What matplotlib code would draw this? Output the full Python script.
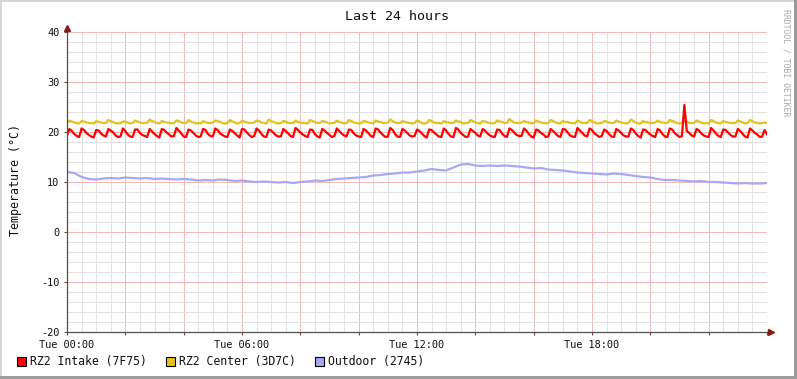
import numpy as np
import matplotlib
matplotlib.use("Agg")
import matplotlib.pyplot as plt
from matplotlib.ticker import MultipleLocator, FuncFormatter
from matplotlib.patches import Rectangle

# ---------------- data ----------------
title = "Last 24 hours"
ylabel = "Temperature (°C)"
series_names = ["RZ2 Intake (7F75)", "RZ2 Center (3D7C)", "Outdoor (2745)"]
xtick_pos = [0, 6, 12, 18]
xtick_labels = ["Tue 00:00", "Tue 06:00", "Tue 12:00", "Tue 18:00"]

# 5-minute samples (hours 0..24)
intake = [
    19.3, 20.6, 20.2, 19.6, 19.2, 19.0, 20.7, 20.4, 19.8, 19.4, 19.1,
    18.9, 20.4, 20.3, 19.7, 19.3, 19.1, 20.6, 20.3, 19.9, 19.3, 19.0,
    19.1, 20.7, 20.2, 19.5, 19.1, 19.0, 20.5, 20.5, 19.8, 19.4, 19.2,
    19.0, 20.6, 20.1, 19.6, 19.2, 18.9, 20.6, 20.4, 19.9, 19.5, 19.1,
    19.2, 20.8, 20.3, 19.7, 19.1, 19.0, 20.5, 20.3, 19.8, 19.3, 19.0,
    19.1, 20.6, 20.4, 19.6, 19.2, 19.1, 20.7, 20.4, 19.7, 19.4, 19.1,
    19.0, 20.5, 20.2, 19.8, 19.3, 18.9, 20.6, 20.5, 19.9, 19.4, 19.0,
    19.2, 20.7, 20.3, 19.6, 19.1, 19.0, 20.5, 20.3, 19.8, 19.3, 19.1,
    19.1, 20.6, 20.2, 19.7, 19.2, 19.0, 20.8, 20.4, 19.9, 19.5, 19.2,
    19.0, 20.5, 20.4, 19.6, 19.1, 18.9, 20.6, 20.3, 19.8, 19.4, 19.0,
    19.2, 20.7, 20.2, 19.7, 19.3, 19.1, 20.5, 20.4, 19.7, 19.3, 19.1,
    19.0, 20.6, 20.3, 19.8, 19.2, 19.0, 20.7, 20.5, 19.9, 19.4, 19.0,
    19.1, 20.8, 20.4, 19.6, 19.1, 19.0, 20.6, 20.3, 19.8, 19.3, 19.1,
    19.2, 20.5, 20.2, 19.7, 19.2, 18.9, 20.5, 20.4, 19.9, 19.5, 19.1,
    19.0, 20.7, 20.3, 19.6, 19.1, 19.0, 20.8, 20.5, 19.8, 19.4, 19.0,
    19.1, 20.6, 20.2, 19.8, 19.3, 19.1, 20.6, 20.3, 19.7, 19.3, 19.1,
    19.0, 20.5, 20.4, 19.7, 19.2, 19.0, 20.7, 20.4, 19.9, 19.4, 19.2,
    19.2, 20.7, 20.3, 19.6, 19.1, 18.9, 20.5, 20.3, 19.8, 19.5, 19.0,
    19.1, 20.6, 20.2, 19.7, 19.2, 19.0, 20.6, 20.5, 19.9, 19.3, 19.1,
    19.0, 20.8, 20.3, 19.8, 19.3, 19.1, 20.7, 20.4, 19.7, 19.4, 19.0,
    19.2, 20.5, 20.2, 19.6, 19.1, 19.0, 20.6, 20.3, 19.8, 19.3, 19.1,
    19.1, 20.7, 20.4, 19.7, 19.2, 18.9, 20.5, 20.4, 19.9, 19.5, 19.2,
    19.0, 20.6, 20.3, 19.6, 19.1, 19.0, 20.7, 20.5, 19.8, 19.4, 19.0,
    19.2, 25.4, 20.2, 19.8, 19.3, 19.1, 20.6, 20.3, 19.7, 19.3, 19.1,
    19.0, 20.8, 20.3, 19.7, 19.2, 19.0, 20.5, 20.4, 19.9, 19.4, 19.1,
    19.1, 20.6, 20.2, 19.6, 19.1, 18.9, 20.7, 20.3, 19.8, 19.5, 19.0,
    19.1, 20.4, 19.5,
]

center = [
    21.8, 22.3, 22.1, 21.9, 21.8, 21.7, 22.2, 22.1, 21.9, 21.8, 21.8,
    21.7, 22.2, 22.0, 21.9, 21.8, 21.8, 22.4, 22.2, 22.0, 21.8, 21.7,
    21.8, 22.1, 22.1, 21.9, 21.7, 21.8, 22.3, 22.1, 21.9, 21.8, 21.8,
    21.9, 22.5, 22.2, 22.0, 21.8, 21.7, 22.2, 22.0, 21.9, 21.8, 21.7,
    21.8, 22.3, 22.2, 21.9, 21.8, 21.8, 22.4, 22.1, 21.9, 21.7, 21.8,
    21.7, 22.2, 22.0, 21.8, 21.8, 21.9, 22.3, 22.2, 22.0, 21.8, 21.7,
    21.8, 22.4, 22.1, 21.9, 21.7, 21.8, 22.2, 22.1, 21.9, 21.8, 21.8,
    21.9, 22.3, 22.2, 21.9, 21.8, 21.7, 22.5, 22.2, 22.0, 21.8, 21.7,
    21.8, 22.2, 22.1, 21.8, 21.8, 21.8, 22.3, 22.0, 21.9, 21.8, 21.8,
    21.7, 22.4, 22.2, 22.0, 21.8, 21.8, 22.2, 22.1, 21.9, 21.7, 21.8,
    21.8, 22.3, 22.0, 21.9, 21.7, 21.8, 22.4, 22.2, 21.9, 21.8, 21.7,
    21.8, 22.2, 22.1, 21.9, 21.8, 21.7, 22.3, 22.1, 22.0, 21.8, 21.8,
    21.9, 22.5, 22.2, 21.9, 21.8, 21.8, 22.2, 22.0, 21.9, 21.8, 21.7,
    21.8, 22.3, 22.1, 21.8, 21.7, 21.8, 22.4, 22.2, 21.9, 21.8, 21.8,
    21.7, 22.2, 22.0, 21.9, 21.8, 21.8, 22.3, 22.1, 22.0, 21.7, 21.8,
    21.8, 22.4, 22.2, 21.9, 21.8, 21.7, 22.2, 22.1, 21.9, 21.8, 21.7,
    21.8, 22.3, 22.1, 22.0, 21.8, 21.8, 22.6, 22.2, 21.9, 21.8, 21.8,
    21.9, 22.2, 22.0, 21.9, 21.7, 21.8, 22.3, 22.1, 21.9, 21.8, 21.7,
    21.8, 22.4, 22.2, 21.9, 21.8, 21.7, 22.2, 22.0, 22.0, 21.8, 21.8,
    21.7, 22.3, 22.1, 21.8, 21.8, 21.8, 22.4, 22.2, 21.9, 21.7, 21.8,
    21.8, 22.2, 22.1, 21.9, 21.8, 21.8, 22.3, 22.1, 21.9, 21.8, 21.7,
    21.8, 22.5, 22.2, 21.9, 21.7, 21.7, 22.2, 22.0, 21.9, 21.8, 21.8,
    21.9, 22.3, 22.0, 21.9, 21.8, 21.8, 22.4, 22.2, 22.0, 21.8, 21.7,
    21.8, 22.2, 22.1, 21.8, 21.8, 21.8, 22.3, 22.1, 21.9, 21.7, 21.8,
    21.7, 22.4, 22.2, 21.9, 21.8, 21.7, 22.2, 22.0, 21.9, 21.8, 21.8,
    21.8, 22.3, 22.1, 21.9, 21.7, 21.8, 22.4, 22.2, 21.9, 21.8, 21.7,
    21.8, 21.9, 21.8,
]

# 15-minute samples (hours 0..24)
outdoor = [
    12.0, 11.8, 11.0, 10.6, 10.5, 10.7, 10.8, 10.7, 10.9, 10.8, 10.7, 10.8,
    10.6, 10.7, 10.6, 10.5, 10.6, 10.5, 10.3, 10.4, 10.3, 10.5, 10.4, 10.2,
    10.3, 10.1, 10.0, 10.1, 10.0, 9.9, 10.0, 9.8, 10.0, 10.1, 10.3, 10.2,
    10.4, 10.6, 10.7, 10.8, 10.9, 11.0, 11.3, 11.4, 11.6, 11.7, 11.9, 11.9,
    12.1, 12.3, 12.6, 12.4, 12.3, 12.9, 13.5, 13.6, 13.3, 13.2, 13.3, 13.2,
    13.3, 13.2, 13.1, 12.9, 12.7, 12.8, 12.5, 12.4, 12.3, 12.1, 11.9, 11.8,
    11.7, 11.6, 11.5, 11.7, 11.6, 11.4, 11.2, 11.0, 10.9, 10.6, 10.4, 10.4,
    10.3, 10.2, 10.1, 10.2, 10.0, 10.0, 9.9, 9.8, 9.7, 9.8, 9.7, 9.7,
    9.8,
]

t5 = np.arange(len(intake)) * 5 / 60.0
t15 = np.arange(len(outdoor)) * 0.25

colors = ["#FF0000", "#E8C020", "#A8A8F4"]

# ---------------- figure ----------------
W, H = 797, 379
fig = plt.figure(figsize=(W / 100, H / 100), dpi=100)
fig.patch.set_facecolor("white")
mono = "DejaVu Sans Mono"

ax = fig.add_axes([67 / W, 1 - 332 / H, 700 / W, 300 / H])
ax.set_facecolor("white")

ax.set_xlim(0, 24)
ax.set_ylim(-20, 40)

ax.xaxis.set_major_locator(MultipleLocator(2))
ax.xaxis.set_minor_locator(MultipleLocator(0.5))
ax.yaxis.set_major_locator(MultipleLocator(10))
ax.yaxis.set_minor_locator(MultipleLocator(2))

lab = dict(zip(xtick_pos, xtick_labels))
ax.xaxis.set_major_formatter(FuncFormatter(lambda v, p: lab.get(int(round(v)), "") if abs(v - round(v)) < 1e-6 else ""))
ax.yaxis.set_major_formatter(FuncFormatter(lambda v, p: "%d" % v))

ax.grid(which="minor", color="#E2E2E2", lw=0.7, zorder=0)
ax.grid(which="major", color="#F4B8B8", lw=0.7, zorder=0)
ax.set_axisbelow(True)

ax.tick_params(which="major", length=2.5, width=0.8, color="#505050",
               labelsize=7.4, labelcolor="#101010", pad=3)
ax.tick_params(which="minor", length=0)
for lbl in ax.get_xticklabels() + ax.get_yticklabels():
    lbl.set_fontfamily(mono)

for s in ["top", "right"]:
    ax.spines[s].set_visible(False)
for s in ["left", "bottom"]:
    ax.spines[s].set_color("#505050")
    ax.spines[s].set_linewidth(0.9)
    ax.spines[s].set_zorder(5)

# axis extensions + arrows
ax.plot([0, 0], [1, 1.013], transform=ax.transAxes, color="#505050", lw=0.9, clip_on=False)
ax.plot([1, 1.006], [0, 0], transform=ax.transAxes, color="#505050", lw=0.9, clip_on=False)
ax.plot([0], [1.013], transform=ax.transAxes, marker="^", ms=4, color="#8B1A1A", clip_on=False, zorder=6)
ax.plot([1.006], [0], transform=ax.transAxes, marker=">", ms=4, color="#8B1A1A", clip_on=False, zorder=6)

lw = 1.6
ax.plot(t5, center, color=colors[1], lw=lw, zorder=3)
ax.plot(t5, intake, color=colors[0], lw=lw, zorder=4)
ax.plot(t15, outdoor, color=colors[2], lw=lw, zorder=3)

# titles
fig.text(397 / W, 1 - 16 / H, title, ha="center", va="center", fontsize=9.6,
         family=mono, color="#101010")
fig.text(16 / W, 1 - 180 / H, ylabel, ha="center", va="center", rotation=90,
         fontsize=8.4, family=mono, color="#101010")
fig.text(786 / W, 1 - 63 / H, "RRDTOOL / TOBI OETIKER", ha="center", va="center",
         rotation=-90, fontsize=5.9, family=mono, color="#A8A8A8")

# legend
leg_x = [17, 166, 315]
for x0, name, c in zip(leg_x, series_names, colors):
    fig.add_artist(Rectangle((x0 / W, 1 - 366 / H), 9 / W, 9 / H, transform=fig.transFigure,
                             facecolor=c, edgecolor="black", lw=0.8))
    fig.text((x0 + 13) / W, 1 - 361 / H, name, ha="left", va="center", fontsize=8.3,
             family=mono, color="#101010")

# frame border
fig.add_artist(Rectangle((0, 0), 1, 1, transform=fig.transFigure, fill=False,
                         edgecolor="#D4D4D4", lw=2))
fig.add_artist(Rectangle((1 - 3 / W, 0), 3 / W, 1, transform=fig.transFigure,
                         facecolor="#9C9C9C", edgecolor="none"))
fig.add_artist(Rectangle((0, 0), 1, 3 / H, transform=fig.transFigure,
                         facecolor="#9C9C9C", edgecolor="none"))

fig.savefig("out.png", dpi=100, facecolor=fig.get_facecolor())
